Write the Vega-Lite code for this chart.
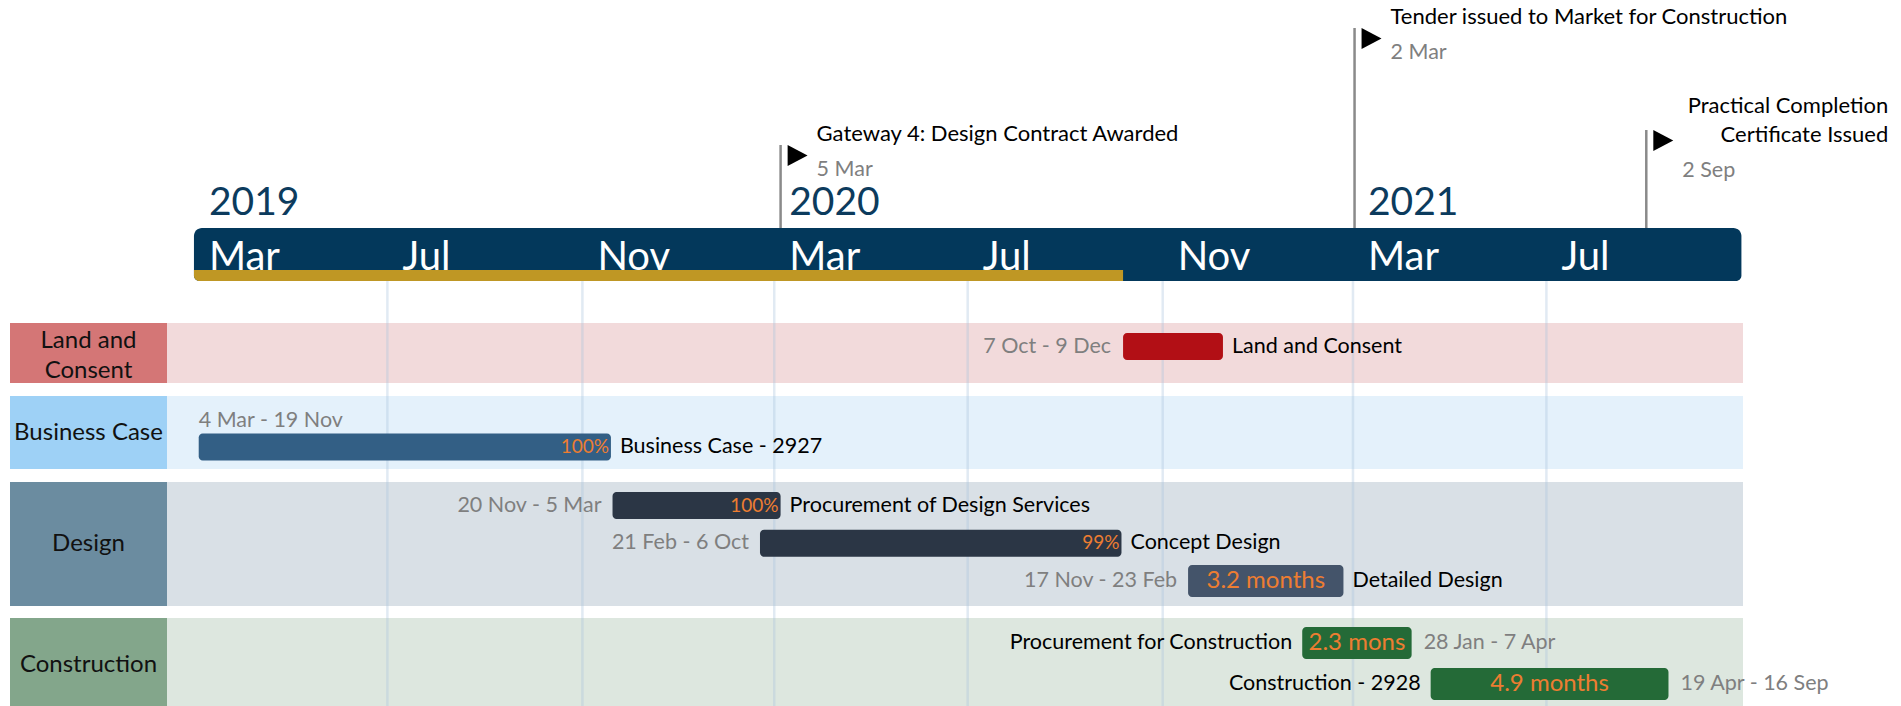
{
  "$schema": "https://vega.github.io/schema/vega-lite/v6.json",
  "padding": {"left": 10, "top": 0, "right": 0, "bottom": 0},
  "background": "white",
  "config": {"view": {"stroke": null}, "font": "Lato"},
  "datasets": {
    "tasks": [
      {"lane": "Land and Consent", "task": "Land and Consent", "start": "2020-10-07", "end": "2020-12-09", "dates": "7 Oct - 9 Dec"},
      {"lane": "Business Case", "task": "Business Case - 2927", "start": "2019-03-04", "end": "2019-11-19", "dates": "4 Mar - 19 Nov", "progress": "100%"},
      {"lane": "Design", "task": "Procurement of Design Services", "start": "2019-11-20", "end": "2020-03-05", "dates": "20 Nov - 5 Mar", "progress": "100%"},
      {"lane": "Design", "task": "Concept Design", "start": "2020-02-21", "end": "2020-10-06", "dates": "21 Feb - 6 Oct", "progress": "99%"},
      {"lane": "Design", "task": "Detailed Design", "start": "2020-11-17", "end": "2021-02-23", "dates": "17 Nov - 23 Feb", "duration": "3.2 months"},
      {"lane": "Construction", "task": "Procurement for Construction", "start": "2021-01-28", "end": "2021-04-07", "dates": "28 Jan - 7 Apr", "duration": "2.3 mons"},
      {"lane": "Construction", "task": "Construction - 2928", "start": "2021-04-19", "end": "2021-09-16", "dates": "19 Apr - 16 Sep", "duration": "4.9 months"}
    ],
    "milestones": [
      {"name": "Gateway 4: Design Contract Awarded", "date": "2020-03-05", "dates": "5 Mar", "tier": 1},
      {"name": "Practical Completion\nCertificate Issued", "date": "2021-09-02", "dates": "2 Sep", "tier": 2},
      {"name": "Tender issued to Market for Construction", "date": "2021-03-02", "dates": "2 Mar", "tier": 3}
    ],
    "years": [
      {"year": "2019", "date": "2019-03-01"},
      {"year": "2020", "date": "2020-03-01"},
      {"year": "2021", "date": "2021-03-01"}
    ],
    "months": [
      {"label": "Mar", "date": "2019-03-01"},
      {"label": "Jul", "date": "2019-07-01"},
      {"label": "Nov", "date": "2019-11-01"},
      {"label": "Mar", "date": "2020-03-01"},
      {"label": "Jul", "date": "2020-07-01"},
      {"label": "Nov", "date": "2020-11-01"},
      {"label": "Mar", "date": "2021-03-01"},
      {"label": "Jul", "date": "2021-07-01"}
    ],
    "grid": [
      {"date": "2019-07-01"}, {"date": "2019-11-01"}, {"date": "2020-03-01"}, {"date": "2020-07-01"},
      {"date": "2020-11-01"}, {"date": "2021-03-01"}, {"date": "2021-07-01"}
    ],
    "timeline": [{"start": "2019-03-01", "end": "2021-11-01", "today": "2020-10-07"}]
  },
  "columns": 2,
  "spacing": 0,
  "bounds": "flush",
  "concat": [
    {"width": 157, "height": 228, "data": {"values": []}, "mark": "text"},
    {
      "width": 1576, "height": 228,
      "layer": [
        {"data": {"name": "years"},
         "mark": {"type": "text", "align": "left", "baseline": "alphabetic", "dx": 15, "dy": -13, "fontSize": 39, "color": "#0c3b5d"},
         "encoding": {
           "x": {"field": "date", "type": "temporal", "axis": null, "scale": {"type": "utc", "domain": [{"year": 2019, "month": 2, "date": 12, "utc": true}, {"year": 2021, "month": 11, "date": 2, "utc": true}]}},
           "y": {"datum": 0, "type": "quantitative", "axis": null, "scale": {"domain": [0, 1, 2, 3], "range": [228, 145, 130, 28], "nice": false, "zero": false}},
           "text": {"field": "year"}
         }},
        {"data": {"name": "milestones"},
         "encoding": {
           "x": {"field": "date", "type": "temporal", "axis": null, "scale": {"type": "utc", "domain": [{"year": 2019, "month": 2, "date": 12, "utc": true}, {"year": 2021, "month": 11, "date": 2, "utc": true}]}},
           "y": {"field": "tier", "type": "quantitative", "axis": null, "scale": {"domain": [0, 1, 2, 3], "range": [228, 145, 130, 28], "nice": false, "zero": false}}
         },
         "layer": [
           {"mark": {"type": "rule", "color": "#8a8a8a", "strokeWidth": 2.5}, "encoding": {"y2": {"datum": 0}}},
           {"mark": {"type": "point", "shape": "M-0.95,-1L0.95,0L-0.95,1Z", "filled": true, "color": "#000000", "opacity": 1, "size": 441, "xOffset": 17, "yOffset": 10.5}},
           {"transform": [{"filter": "datum.tier != 2"}],
            "mark": {"type": "text", "align": "left", "baseline": "alphabetic", "dx": 36, "dy": -4, "fontSize": 22, "color": "#000000"},
            "encoding": {"text": {"field": "name"}}},
           {"transform": [{"filter": "datum.tier != 2"}],
            "mark": {"type": "text", "align": "left", "baseline": "alphabetic", "dx": 36, "dy": 31, "fontSize": 21.5, "color": "#7f7f7f"},
            "encoding": {"text": {"field": "dates"}}},
           {"transform": [{"filter": "datum.tier == 2"}],
            "mark": {"type": "text", "align": "right", "baseline": "alphabetic", "dx": 242, "dy": -17, "lineBreak": "\n", "lineHeight": 29, "fontSize": 22, "color": "#000000"},
            "encoding": {"text": {"field": "name"}}},
           {"transform": [{"filter": "datum.tier == 2"}],
            "mark": {"type": "text", "align": "left", "baseline": "alphabetic", "dx": 36, "dy": 47, "fontSize": 21.5, "color": "#7f7f7f"},
            "encoding": {"text": {"field": "dates"}}}
         ]}
      ]
    },
    {"width": 157, "height": 42, "data": {"values": []}, "mark": "text"},
    {
      "width": 1576, "height": 42,
      "layer": [
        {"data": {"name": "timeline"},
         "mark": {"type": "rect", "color": "#03385b", "cornerRadiusTopLeft": 8, "cornerRadiusTopRight": 8},
         "encoding": {
           "x": {"field": "start", "type": "temporal", "axis": null, "scale": {"type": "utc", "domain": [{"year": 2019, "month": 2, "date": 12, "utc": true}, {"year": 2021, "month": 11, "date": 2, "utc": true}]}},
           "x2": {"field": "end"}
         }},
        {"data": {"name": "months"},
         "mark": {"type": "text", "align": "left", "baseline": "middle", "dx": 15, "dy": 9, "fontSize": 40, "color": "#ffffff"},
         "encoding": {
           "x": {"field": "date", "type": "temporal", "axis": null, "scale": {"type": "utc", "domain": [{"year": 2019, "month": 2, "date": 12, "utc": true}, {"year": 2021, "month": 11, "date": 2, "utc": true}]}},
           "text": {"field": "label"}
         }}
      ]
    },
    {"width": 157, "height": 11, "data": {"values": []}, "mark": "text"},
    {
      "width": 1576, "height": 11,
      "data": {"name": "timeline"},
      "layer": [
        {"mark": {"type": "rect", "color": "#03385b", "cornerRadiusBottomLeft": 8, "cornerRadiusBottomRight": 8},
         "encoding": {
           "x": {"field": "start", "type": "temporal", "axis": null, "scale": {"type": "utc", "domain": [{"year": 2019, "month": 2, "date": 12, "utc": true}, {"year": 2021, "month": 11, "date": 2, "utc": true}]}},
           "x2": {"field": "end"}
         }},
        {"mark": {"type": "rect", "color": "#bf9724", "cornerRadiusBottomLeft": 8},
         "encoding": {
           "x": {"field": "start", "type": "temporal", "axis": null, "scale": {"type": "utc", "domain": [{"year": 2019, "month": 2, "date": 12, "utc": true}, {"year": 2021, "month": 11, "date": 2, "utc": true}]}},
           "x2": {"field": "today"}
         }}
      ]
    },
    {"width": 157, "height": 42, "data": {"values": []}, "mark": "text"},
    {
      "width": 1576, "height": 42,
      "data": {"name": "grid"},
      "mark": {"type": "rule", "color": "#a9c4dc", "opacity": 0.35, "strokeWidth": 2.5},
      "encoding": {"x": {"field": "date", "type": "temporal", "axis": null, "scale": {"type": "utc", "domain": [{"year": 2019, "month": 2, "date": 12, "utc": true}, {"year": 2021, "month": 11, "date": 2, "utc": true}]}}}
    },
    {"width": 157, "height": 60, "view": {"fill": "#d47676", "stroke": null},
     "data": {"values": [{"label": "Land and\nConsent"}]},
     "mark": {"type": "text", "fontSize": 24, "color": "#111111", "lineBreak": "\n", "lineHeight": 30, "baseline": "middle", "dy": -12},
     "encoding": {"text": {"field": "label"}}},
    {
      "width": 1576, "height": 60,
      "view": {"fill": "#f2dadb", "stroke": null},
      "layer": [
        {"data": {"name": "grid"},
         "mark": {"type": "rule", "color": "#a9c4dc", "opacity": 0.35, "strokeWidth": 2.5},
         "encoding": {"x": {"field": "date", "type": "temporal", "axis": null, "scale": {"type": "utc", "domain": [{"year": 2019, "month": 2, "date": 12, "utc": true}, {"year": 2021, "month": 11, "date": 2, "utc": true}]}}}},
        {"data": {"name": "tasks", "format": {"parse": {"start": "date", "end": "date"}}},
         "transform": [{"filter": "datum.lane == 'Land and Consent'"}],
         "encoding": {"y": {"field": "task", "type": "nominal", "axis": null, "scale": {"type": "point", "padding": 0.5, "align": 0.392}}},
         "layer": [
           {"mark": {"type": "bar", "height": 27, "cornerRadius": 4},
            "encoding": {
              "x": {"field": "start", "type": "temporal", "axis": null, "scale": {"type": "utc", "domain": [{"year": 2019, "month": 2, "date": 12, "utc": true}, {"year": 2021, "month": 11, "date": 2, "utc": true}]}},
              "x2": {"field": "end"},
              "color": {"field": "task", "type": "nominal", "legend": null, "scale": {"domain": ["Land and Consent", "Business Case - 2927", "Procurement of Design Services", "Concept Design", "Detailed Design", "Procurement for Construction", "Construction - 2928"], "range": ["#b20f15", "#335f85", "#2b3645", "#2b3645", "#44546a", "#246a37", "#246a37"]}}
            }},
           {"mark": {"type": "text", "align": "right", "baseline": "middle", "dx": -12, "fontSize": 21.5, "color": "#7f7f7f"},
            "encoding": {"x": {"field": "start", "type": "temporal"}, "text": {"field": "dates"}}},
           {"mark": {"type": "text", "align": "left", "baseline": "middle", "dx": 9, "fontSize": 21.5, "color": "#000000"},
            "encoding": {"x": {"field": "end", "type": "temporal"}, "text": {"field": "task"}}}
         ]}
      ]
    },
    {"width": 157, "height": 13, "data": {"values": []}, "mark": "text"},
    {
      "width": 1576, "height": 13,
      "data": {"name": "grid"},
      "mark": {"type": "rule", "color": "#a9c4dc", "opacity": 0.35, "strokeWidth": 2.5},
      "encoding": {"x": {"field": "date", "type": "temporal", "axis": null, "scale": {"type": "utc", "domain": [{"year": 2019, "month": 2, "date": 12, "utc": true}, {"year": 2021, "month": 11, "date": 2, "utc": true}]}}}
    },
    {"width": 157, "height": 73, "view": {"fill": "#9ed1f6", "stroke": null},
     "data": {"values": [{"label": "Business Case"}]},
     "mark": {"type": "text", "fontSize": 24, "color": "#111111", "baseline": "middle"},
     "encoding": {"text": {"field": "label"}}},
    {
      "width": 1576, "height": 73,
      "view": {"fill": "#e4f1fb", "stroke": null},
      "layer": [
        {"data": {"name": "grid"},
         "mark": {"type": "rule", "color": "#a9c4dc", "opacity": 0.35, "strokeWidth": 2.5},
         "encoding": {"x": {"field": "date", "type": "temporal", "axis": null, "scale": {"type": "utc", "domain": [{"year": 2019, "month": 2, "date": 12, "utc": true}, {"year": 2021, "month": 11, "date": 2, "utc": true}]}}}},
        {"data": {"name": "tasks", "format": {"parse": {"start": "date", "end": "date"}}},
         "transform": [{"filter": "datum.lane == 'Business Case'"}],
         "encoding": {"y": {"field": "task", "type": "nominal", "axis": null, "scale": {"type": "point", "padding": 0.5, "align": 0.699}}},
         "layer": [
           {"mark": {"type": "bar", "height": 27, "cornerRadius": 4},
            "encoding": {
              "x": {"field": "start", "type": "temporal", "axis": null, "scale": {"type": "utc", "domain": [{"year": 2019, "month": 2, "date": 12, "utc": true}, {"year": 2021, "month": 11, "date": 2, "utc": true}]}},
              "x2": {"field": "end"},
              "color": {"field": "task", "type": "nominal", "legend": null, "scale": {"domain": ["Land and Consent", "Business Case - 2927", "Procurement of Design Services", "Concept Design", "Detailed Design", "Procurement for Construction", "Construction - 2928"], "range": ["#b20f15", "#335f85", "#2b3645", "#2b3645", "#44546a", "#246a37", "#246a37"]}}
            }},
           {"mark": {"type": "text", "align": "right", "baseline": "middle", "dx": -2, "fontSize": 19, "color": "#ed7d31"},
            "encoding": {"x": {"field": "end", "type": "temporal"}, "text": {"field": "progress"}}},
           {"mark": {"type": "text", "align": "left", "baseline": "middle", "dy": -26, "fontSize": 21.5, "color": "#7f7f7f"},
            "encoding": {"x": {"field": "start", "type": "temporal"}, "text": {"field": "dates"}}},
           {"mark": {"type": "text", "align": "left", "baseline": "middle", "dx": 9, "fontSize": 21.5, "color": "#000000"},
            "encoding": {"x": {"field": "end", "type": "temporal"}, "text": {"field": "task"}}}
         ]}
      ]
    },
    {"width": 157, "height": 13, "data": {"values": []}, "mark": "text"},
    {
      "width": 1576, "height": 13,
      "data": {"name": "grid"},
      "mark": {"type": "rule", "color": "#a9c4dc", "opacity": 0.35, "strokeWidth": 2.5},
      "encoding": {"x": {"field": "date", "type": "temporal", "axis": null, "scale": {"type": "utc", "domain": [{"year": 2019, "month": 2, "date": 12, "utc": true}, {"year": 2021, "month": 11, "date": 2, "utc": true}]}}}
    },
    {"width": 157, "height": 124, "view": {"fill": "#6b8ca0", "stroke": null},
     "data": {"values": [{"label": "Design"}]},
     "mark": {"type": "text", "fontSize": 24, "color": "#111111", "baseline": "middle"},
     "encoding": {"text": {"field": "label"}}},
    {
      "width": 1576, "height": 124,
      "view": {"fill": "#d9e0e6", "stroke": null},
      "layer": [
        {"data": {"name": "grid"},
         "mark": {"type": "rule", "color": "#a9c4dc", "opacity": 0.35, "strokeWidth": 2.5},
         "encoding": {"x": {"field": "date", "type": "temporal", "axis": null, "scale": {"type": "utc", "domain": [{"year": 2019, "month": 2, "date": 12, "utc": true}, {"year": 2021, "month": 11, "date": 2, "utc": true}]}}}},
        {"data": {"name": "tasks", "format": {"parse": {"start": "date", "end": "date"}}},
         "transform": [{"filter": "datum.lane == 'Design'"}],
         "encoding": {"y": {"field": "task", "type": "nominal", "axis": null, "sort": ["Procurement of Design Services", "Concept Design", "Detailed Design"], "scale": {"type": "point", "padding": 0.642, "align": 0.485}}},
         "layer": [
           {"transform": [{"filter": "datum.progress"}],
            "mark": {"type": "bar", "height": 27, "cornerRadius": 4},
            "encoding": {
              "x": {"field": "start", "type": "temporal", "axis": null, "scale": {"type": "utc", "domain": [{"year": 2019, "month": 2, "date": 12, "utc": true}, {"year": 2021, "month": 11, "date": 2, "utc": true}]}},
              "x2": {"field": "end"},
              "color": {"field": "task", "type": "nominal", "legend": null, "scale": {"domain": ["Land and Consent", "Business Case - 2927", "Procurement of Design Services", "Concept Design", "Detailed Design", "Procurement for Construction", "Construction - 2928"], "range": ["#b20f15", "#335f85", "#2b3645", "#2b3645", "#44546a", "#246a37", "#246a37"]}}
            }},
           {"transform": [{"filter": "datum.duration"}],
            "mark": {"type": "bar", "height": 32, "cornerRadius": 4},
            "encoding": {
              "x": {"field": "start", "type": "temporal"},
              "x2": {"field": "end"},
              "color": {"field": "task", "type": "nominal", "legend": null, "scale": {"domain": ["Land and Consent", "Business Case - 2927", "Procurement of Design Services", "Concept Design", "Detailed Design", "Procurement for Construction", "Construction - 2928"], "range": ["#b20f15", "#335f85", "#2b3645", "#2b3645", "#44546a", "#246a37", "#246a37"]}}
            }},
           {"transform": [{"filter": "datum.progress"}],
            "mark": {"type": "text", "align": "right", "baseline": "middle", "dx": -2, "fontSize": 19, "color": "#ed7d31"},
            "encoding": {"x": {"field": "end", "type": "temporal"}, "text": {"field": "progress"}}},
           {"transform": [{"filter": "datum.duration"}, {"fold": ["start", "end"], "as": ["k", "t"]}],
            "mark": {"type": "text", "align": "center", "baseline": "middle", "fontSize": 24, "color": "#ed7d31"},
            "encoding": {"x": {"field": "t", "type": "temporal", "aggregate": "mean"}, "text": {"field": "duration"}}},
           {"mark": {"type": "text", "align": "right", "baseline": "middle", "dx": -11, "fontSize": 21.5, "color": "#7f7f7f"},
            "encoding": {"x": {"field": "start", "type": "temporal"}, "text": {"field": "dates"}}},
           {"mark": {"type": "text", "align": "left", "baseline": "middle", "dx": 9, "fontSize": 21.5, "color": "#000000"},
            "encoding": {"x": {"field": "end", "type": "temporal"}, "text": {"field": "task"}}}
         ]}
      ]
    },
    {"width": 157, "height": 12, "data": {"values": []}, "mark": "text"},
    {
      "width": 1576, "height": 12,
      "data": {"name": "grid"},
      "mark": {"type": "rule", "color": "#a9c4dc", "opacity": 0.35, "strokeWidth": 2.5},
      "encoding": {"x": {"field": "date", "type": "temporal", "axis": null, "scale": {"type": "utc", "domain": [{"year": 2019, "month": 2, "date": 12, "utc": true}, {"year": 2021, "month": 11, "date": 2, "utc": true}]}}}
    },
    {"width": 157, "height": 94, "view": {"fill": "#83a68b", "stroke": null},
     "data": {"values": [{"label": "Construction"}]},
     "mark": {"type": "text", "fontSize": 24, "color": "#111111", "baseline": "middle"},
     "encoding": {"text": {"field": "label"}}},
    {
      "width": 1576, "height": 94,
      "view": {"fill": "#dde7df", "stroke": null},
      "layer": [
        {"data": {"name": "grid"},
         "mark": {"type": "rule", "color": "#a9c4dc", "opacity": 0.35, "strokeWidth": 2.5},
         "encoding": {"x": {"field": "date", "type": "temporal", "axis": null, "scale": {"type": "utc", "domain": [{"year": 2019, "month": 2, "date": 12, "utc": true}, {"year": 2021, "month": 11, "date": 2, "utc": true}]}}}},
        {"data": {"name": "tasks", "format": {"parse": {"start": "date", "end": "date"}}},
         "transform": [{"filter": "datum.lane == 'Construction'"}],
         "encoding": {"y": {"field": "task", "type": "nominal", "axis": null, "sort": ["Procurement for Construction", "Construction - 2928"], "scale": {"type": "point", "padding": 0.646, "align": 0.472}}},
         "layer": [
           {"mark": {"type": "bar", "height": 32, "cornerRadius": 4},
            "encoding": {
              "x": {"field": "start", "type": "temporal", "axis": null, "scale": {"type": "utc", "domain": [{"year": 2019, "month": 2, "date": 12, "utc": true}, {"year": 2021, "month": 11, "date": 2, "utc": true}]}},
              "x2": {"field": "end"},
              "color": {"field": "task", "type": "nominal", "legend": null, "scale": {"domain": ["Land and Consent", "Business Case - 2927", "Procurement of Design Services", "Concept Design", "Detailed Design", "Procurement for Construction", "Construction - 2928"], "range": ["#b20f15", "#335f85", "#2b3645", "#2b3645", "#44546a", "#246a37", "#246a37"]}}
            }},
           {"transform": [{"fold": ["start", "end"], "as": ["k", "t"]}],
            "mark": {"type": "text", "align": "center", "baseline": "middle", "fontSize": 24, "color": "#ed7d31"},
            "encoding": {"x": {"field": "t", "type": "temporal", "aggregate": "mean"}, "text": {"field": "duration"}}},
           {"mark": {"type": "text", "align": "right", "baseline": "middle", "dx": -10, "fontSize": 21.5, "color": "#000000"},
            "encoding": {"x": {"field": "start", "type": "temporal"}, "text": {"field": "task"}}},
           {"mark": {"type": "text", "align": "left", "baseline": "middle", "dx": 12, "fontSize": 21.5, "color": "#7f7f7f"},
            "encoding": {"x": {"field": "end", "type": "temporal"}, "text": {"field": "dates"}}}
         ]}
      ]
    }
  ]
}
